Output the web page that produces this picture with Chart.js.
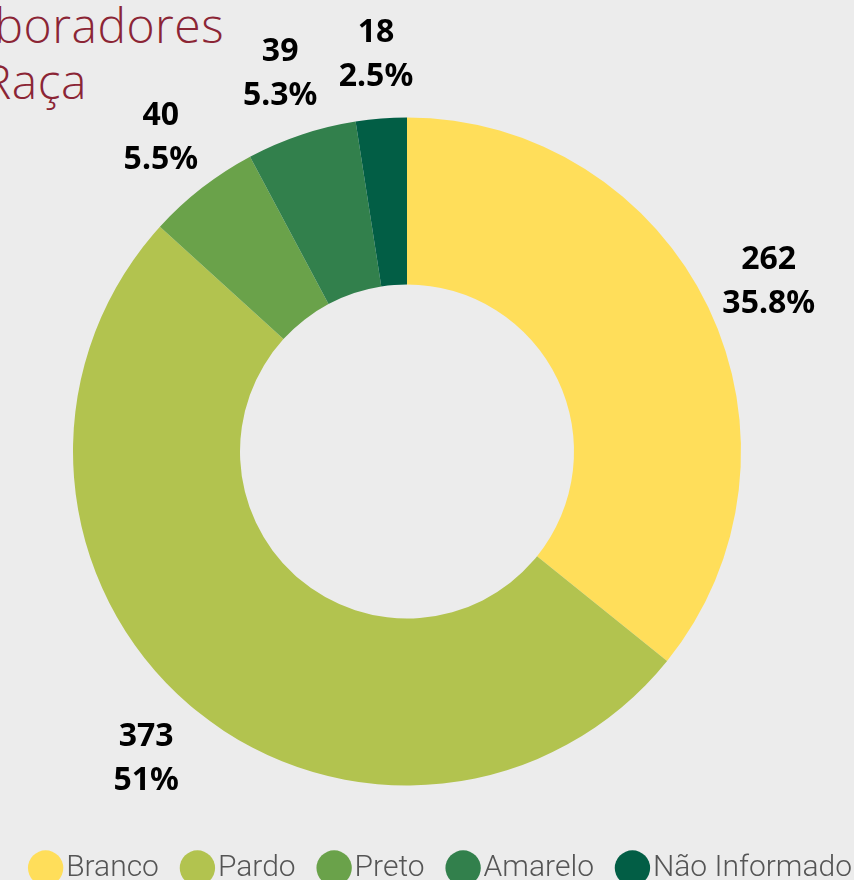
<!DOCTYPE html>
<html>
<head>
<meta charset="utf-8">
<script src="https://cdn.jsdelivr.net/npm/chart.js@4/dist/chart.umd.min.js"></script>
<style>
  html, body { margin: 0; padding: 0; background: #ececec; overflow: hidden; }
  body { width: 854px; height: 880px; position: relative; }
  .title {
    position: absolute; left: -400px; width: 624px; text-align: right;
    font-family: "Open Sans", sans-serif; font-weight: 300; font-size: 48px;
    letter-spacing: 0.5px;
    color: #8b2535; white-space: nowrap; line-height: 1;
  }
  #wrap { position: absolute; left: -71px; top: 0; width: 956px; height: 893px; }
</style>
</head>
<body>
<div class="title" style="top: 1px;">Colaboradores</div>
<div class="title" style="top: 57px; width: 487px;">por Raça</div>
<div id="wrap"><canvas id="racaChart"></canvas></div>
<script>
const categories = ['Branco', 'Pardo', 'Preto', 'Amarelo', 'Não Informado'];
const values = [262, 373, 40, 39, 18];
const colors = ['#ffde5a', '#b2c34f', '#6aa24a', '#32804c', '#025e45'];

const total = values.reduce((a, b) => a + b, 0);

// value + percent written outside each slice
const arcLabels = {
    id: 'arcLabels',
    afterDatasetsDraw(chart) {
        const ctx = chart.ctx;
        const meta = chart.getDatasetMeta(0);
        ctx.save();
        ctx.font = 'bold 32px "Noto Sans"';
        ctx.fillStyle = '#000';
        ctx.textAlign = 'center';
        ctx.textBaseline = 'middle';
        meta.data.forEach((arc, i) => {
            const p = arc.getProps(['x', 'y', 'startAngle', 'endAngle', 'outerRadius'], true);
            const mid = (p.startAngle + p.endAngle) / 2;
            const r = p.outerRadius + 67;
            const lx = p.x + Math.cos(mid) * r;
            const ly = p.y + Math.sin(mid) * r + 3;
            const pct = parseFloat((values[i] / total * 100).toFixed(1)) + '%';
            ctx.fillText(String(values[i]), lx, ly - 22);
            ctx.fillText(pct, lx, ly + 22);
        });
        ctx.restore();
    }
};

const ctx = document.getElementById('racaChart').getContext('2d');
const chart = new Chart(ctx, {
    type: 'doughnut',
    data: {
        labels: categories,
        datasets: [{
            data: values,
            backgroundColor: colors,
            borderWidth: 0
        }]
    },
    options: {
        responsive: true,
        maintainAspectRatio: false,
        animation: false,
        radius: 334,
        cutout: '50%',
        layout: {
            padding: { top: 83 }
        },
        plugins: {
            legend: {
                position: 'bottom',
                align: 'end',
                labels: {
                    usePointStyle: true,
                    pointStyle: 'circle',
                    boxWidth: 11,
                    boxHeight: 25,
                    padding: 33,
                    color: '#555555',
                    font: { family: 'Roboto', weight: 300, size: 30 }
                }
            },
            tooltip: { enabled: false }
        }
    },
    plugins: [arcLabels]
});
</script>
</body>
</html>
